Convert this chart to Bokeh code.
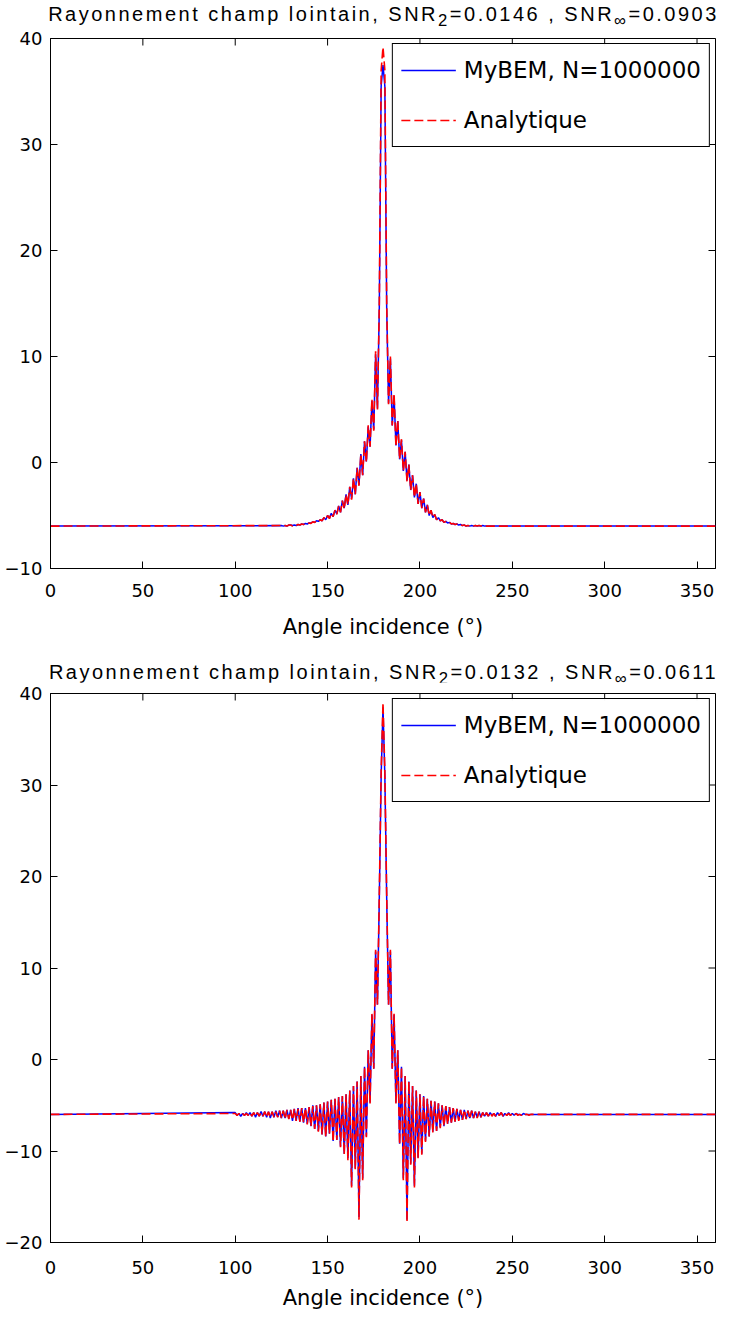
import math
from bokeh.plotting import figure
from bokeh.models import Legend, LegendItem, Div, Range1d, FixedTicker
from bokeh.layouts import column
from bokeh.embed import file_html
from bokeh.resources import INLINE

FONT = "Liberation Sans"
FONT_WIDE = "DejaVu Sans"

x_ticks = [0, 50, 100, 150, 200, 250, 300, 350]
top_y_ticks = [-10, 0, 10, 20, 30, 40]
bot_y_ticks = [-20, -10, 0, 10, 20, 30, 40]

title_top = "Rayonnement champ lointain, SNR<sub>2</sub>=0.0146 , SNR<sub>&infin;</sub>=0.0903"
title_bot = "Rayonnement champ lointain, SNR<sub>2</sub>=0.0132 , SNR<sub>&infin;</sub>=0.0611"
x_label = "Angle incidence (°)"
label_bem = "MyBEM, N=1000000"
label_ana = "Analytique"

# ---------------- top panel (angles 0, 125..235, 360) ----------------
top_angles = [0] + list(range(125, 236)) + [360]
top_analytique = [-6.0,
    -5.95, -6.0, -5.95, -6.0, -5.9,
    -5.9, -6.0, -5.9, -5.95, -5.85, -5.9, -5.8, -5.85, -5.75, -5.8,
    -5.7, -5.75, -5.6, -5.65, -5.5, -5.6, -5.4, -5.5, -5.2, -5.4,
    -5.0, -5.3, -4.8, -5.1, -4.5, -4.9, -4.1, -4.7, -3.6, -4.4,
    -3.0, -4.0, -2.3, -3.5, -1.5, -3.0, -0.5, -2.2, 0.8, -1.2,
    2.0, 0.0, 3.5, 1.5, 6.0, 3.0, 10.5, 5.0, 15.0, 37.0,
    39.2,
    37.0, 15.0, 5.5, 10.0, 3.5, 6.5, 1.5, 4.0, 0.3,
    2.2, -0.8, 1.0, -1.8, -0.2, -2.6, -1.2, -3.3, -2.0, -3.9,
    -2.8, -4.3, -3.4, -4.7, -4.0, -5.0, -4.5, -5.2, -4.9, -5.4,
    -5.2, -5.5, -5.4, -5.65, -5.55, -5.7, -5.65, -5.8, -5.75, -5.85,
    -5.8, -5.9, -5.85, -5.95, -5.9, -6.0, -5.95, -6.0, -5.95, -6.0,
    -5.95, -6.0, -5.95, -6.0, -5.95, -6.0,
    -6.0]
top_mybem = [-6.0,
    -5.95, -6.0, -5.95, -6.0, -5.9,
    -5.9, -5.95, -5.9, -5.95, -5.85, -5.9, -5.8, -5.85, -5.75, -5.8,
    -5.7, -5.7, -5.6, -5.65, -5.5, -5.55, -5.4, -5.5, -5.2, -5.4,
    -5.0, -5.25, -4.8, -5.1, -4.5, -4.85, -4.1, -4.7, -3.6, -4.3,
    -3.0, -4.0, -2.3, -3.4, -1.5, -3.0, -0.5, -2.1, 0.8, -1.2,
    2.0, 0.1, 3.4, 1.5, 5.8, 3.1, 10.2, 5.1, 14.6, 35.5,
    37.5,
    35.5, 14.6, 5.6, 9.8, 3.5, 6.3, 1.6, 3.9, 0.3,
    2.1, -0.8, 1.0, -1.7, -0.2, -2.6, -1.2, -3.3, -2.0, -3.9,
    -2.8, -4.3, -3.4, -4.7, -4.0, -5.0, -4.5, -5.2, -4.9, -5.4,
    -5.2, -5.5, -5.4, -5.65, -5.55, -5.7, -5.65, -5.8, -5.75, -5.85,
    -5.8, -5.9, -5.85, -5.95, -5.9, -6.0, -5.95, -6.0, -5.95, -6.0,
    -5.95, -6.0, -5.95, -6.0, -5.95, -6.0,
    -6.0]

# ---------------- bottom panel (angles 0, 100..260, 360) ----------------
bot_angles = [0] + list(range(100, 261)) + [360]
bot_analytique = [-6.0,
    -5.9, -6.1, -5.9, -6.1, -5.9, -6.1, -5.9, -6.1, -5.8, -6.2,
    -5.8, -6.2, -5.8, -6.2, -5.8, -6.2, -5.7, -6.3, -5.7, -6.3,
    -5.7, -6.3, -5.7, -6.3, -5.6, -6.4, -5.6, -6.5, -5.5, -6.5,
    -5.5, -6.6, -5.4, -6.7, -5.4, -6.8, -5.3, -6.9, -5.3, -7.1,
    -5.2, -7.3, -5.1, -7.6, -5.0, -7.9, -4.9, -8.2, -4.7, -8.5,
    -4.6, -8.1, -4.4, -9.0, -4.3, -8.8, -4.1, -9.6, -4.0, -10.4,
    -3.8, -11.0, -3.4, -14.0, -2.9, -12.0, -2.4, -17.5, -1.8, -13.2,
    -0.8, -8.5, 1.0, -4.8, 5.0, -1.0, 12.0, 6.0, 18.0, 31.5,
    39.0,
    31.5, 18.0, 6.0, 12.0, -1.0, 5.0, -4.8, 1.0, -9.3, -0.8,
    -13.2, -1.8, -17.8, -2.4, -11.5, -2.9, -14.0, -3.4, -10.8, -3.8,
    -10.4, -4.0, -9.0, -4.3, -8.4, -4.5, -8.0, -4.6, -7.8, -4.8,
    -7.5, -5.0, -7.3, -5.1, -7.1, -5.2, -6.9, -5.3, -6.8, -5.4,
    -6.7, -5.5, -6.6, -5.5, -6.5, -5.6, -6.5, -5.6, -6.4, -5.7,
    -6.4, -5.7, -6.3, -5.8, -6.3, -5.8, -6.2, -5.8, -6.2, -5.9,
    -6.2, -5.9, -6.1, -5.8, -6.2, -5.9, -6.1, -5.9, -6.1, -5.9,
    -6.1, -5.9, -6.1, -6.0, -6.1, -5.9, -6.0, -6.0, -6.1, -6.0,
    -6.0]
bot_mybem = [-6.0,
    -5.8, -6.1, -5.9, -6.2, -5.9, -6.1, -5.8, -6.1, -5.8, -6.2,
    -5.8, -6.3, -5.8, -6.2, -5.7, -6.2, -5.7, -6.3, -5.7, -6.4,
    -5.7, -6.3, -5.6, -6.3, -5.6, -6.4, -5.6, -6.4, -5.5, -6.5,
    -5.5, -6.7, -5.4, -6.7, -5.3, -6.8, -5.3, -6.9, -5.3, -7.0,
    -5.2, -7.3, -5.0, -7.6, -5.0, -7.8, -4.9, -8.2, -4.7, -8.4,
    -4.6, -8.1, -4.4, -8.9, -4.3, -8.8, -4.1, -9.5, -4.0, -10.3,
    -3.8, -10.8, -3.4, -13.8, -2.9, -11.9, -2.4, -17.2, -1.8, -13.0,
    -0.8, -8.4, 1.0, -4.7, 4.9, -1.0, 11.8, 6.0, 17.6, 31.0,
    38.5,
    31.0, 17.6, 6.0, 11.8, -1.0, 4.9, -4.7, 1.0, -9.2, -0.8,
    -13.0, -1.8, -17.5, -2.4, -11.4, -2.9, -13.8, -3.4, -10.7, -3.8,
    -10.3, -4.0, -8.9, -4.3, -8.4, -4.5, -7.9, -4.6, -7.8, -4.8,
    -7.4, -5.0, -7.3, -5.1, -7.0, -5.2, -6.9, -5.3, -6.8, -5.4,
    -6.6, -5.5, -6.6, -5.5, -6.5, -5.6, -6.4, -5.6, -6.4, -5.7,
    -6.3, -5.7, -6.3, -5.8, -6.2, -5.8, -6.2, -5.8, -6.1, -5.9,
    -6.2, -5.8, -6.1, -5.8, -6.2, -5.9, -6.1, -5.8, -6.1, -5.9,
    -6.1, -5.9, -6.0, -6.0, -6.1, -5.9, -6.0, -6.0, -6.0, -6.0,
    -6.0]

assert len(top_angles) == len(top_analytique) == len(top_mybem)
assert len(bot_angles) == len(bot_analytique) == len(bot_mybem)

W = 717
B_LEFT = 50
B_RIGHT = 2


def make_title(html, height, pad_top):
    return Div(
        text=f'<div style="width:707px;margin-left:30px;text-align:center;white-space:nowrap;'
             f'font-family:{FONT};font-size:20px;letter-spacing:2.5px;'
             f'line-height:20px;color:#000;padding-top:{pad_top}px;">{html}</div>',
        width=W, height=height, margin=(0, 0, 0, 0))


def make_fig(angles, ana, bem, yr, yticks, height, b_top, b_bot, tick_sd, label_sd):
    p = figure(width=W, height=height, output_backend="svg", toolbar_location=None,
               x_range=Range1d(0, 360), y_range=Range1d(*yr),
               min_border_left=B_LEFT, min_border_right=B_RIGHT,
               min_border_top=b_top, min_border_bottom=b_bot,
               x_axis_label=x_label)
    p.xgrid.visible = False
    p.ygrid.visible = False
    p.outline_line_color = "#000000"
    p.background_fill_color = "white"
    p.border_fill_color = "white"
    p.xaxis.ticker = FixedTicker(ticks=x_ticks)
    p.yaxis.ticker = FixedTicker(ticks=yticks)
    for ax in [p.xaxis[0], p.yaxis[0]]:
        ax.major_tick_in = 7
        ax.major_tick_out = 0
        ax.minor_tick_line_color = None
        ax.axis_line_color = "#000000"
        ax.major_tick_line_color = "#000000"
        ax.major_label_text_font = FONT_WIDE
        ax.major_label_text_font_size = "18px"
        ax.major_label_text_color = "#000000"
        ax.axis_label_text_font = FONT_WIDE
        ax.axis_label_text_font_size = "21px"
        ax.axis_label_text_font_style = "normal"
        ax.axis_label_text_color = "#000000"
    p.xaxis.major_label_standoff = tick_sd
    p.xaxis.axis_label_standoff = label_sd
    p.yaxis.major_label_standoff = 8

    # mirrored tick marks on the top and right edges (half of each dash is clipped)
    p.scatter(x_ticks, [yr[1]] * len(x_ticks), marker="dash", size=14, angle=math.pi / 2,
              line_color="#000000", line_width=1)
    p.scatter([360] * len(yticks), yticks, marker="dash", size=14,
              line_color="#000000", line_width=1)

    r_bem = p.line(angles, bem, line_color="#0000ff", line_width=1.5)
    r_ana = p.line(angles, ana, line_color="#ff0000", line_width=1.6, line_dash="9 4")
    leg = Legend(items=[LegendItem(label=label_bem, renderers=[r_bem]),
                        LegendItem(label=label_ana, renderers=[r_ana])],
                 location="top_right")
    leg.label_text_font = FONT_WIDE
    leg.label_text_font_size = "23px"
    leg.label_text_color = "#000000"
    leg.border_line_color = "#000000"
    leg.border_line_width = 1
    leg.border_line_alpha = 1
    leg.background_fill_color = "white"
    leg.glyph_width = 55
    leg.glyph_height = 36
    leg.label_height = 36
    leg.label_standoff = 8
    leg.spacing = 14
    leg.padding = 8
    leg.margin = 5
    p.add_layout(leg, "center")
    return p


t1 = make_title(title_top, 28, 4)
p1 = make_fig(top_angles, top_analytique, top_mybem, (-10, 40), top_y_ticks, 622, 10, 82, 15, 15)
t2 = make_title(title_bot, 32, 12)
p2 = make_fig(bot_angles, bot_analytique, bot_mybem, (-20, 40), bot_y_ticks, 632, 11, 72, 18, 9)

layout = column(t1, p1, t2, p2, spacing=0)
open("out.html", "w").write(file_html(layout, INLINE))
